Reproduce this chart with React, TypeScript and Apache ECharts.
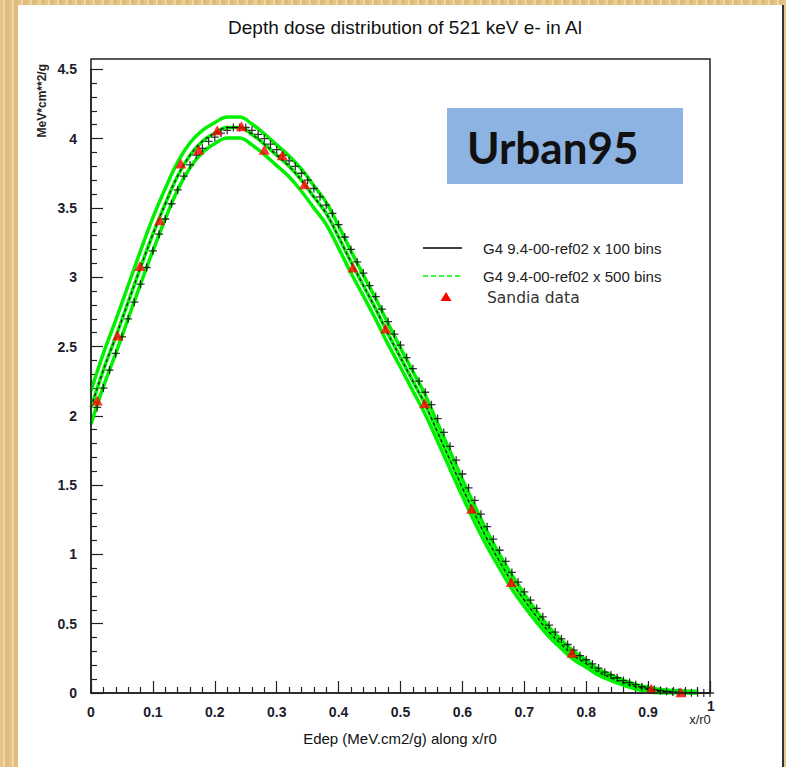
import React, { useEffect, useRef } from 'react';
import * as echarts from 'echarts';

// ---- data ----
const bandX = [0, 0.02, 0.04, 0.06, 0.08, 0.1, 0.12, 0.14, 0.16, 0.18, 0.2, 0.22, 0.24, 0.26, 0.28, 0.3, 0.32, 0.34, 0.36, 0.38, 0.4, 0.42, 0.44, 0.46, 0.48, 0.5, 0.52, 0.54, 0.56, 0.58, 0.6, 0.62, 0.64, 0.66, 0.68, 0.7, 0.72, 0.74, 0.76, 0.78, 0.8, 0.82, 0.84, 0.86, 0.88, 0.9, 0.92, 0.94, 0.96, 0.98];
const bandCenter = [2.06, 2.33, 2.57, 2.82, 3.07, 3.31, 3.53, 3.73, 3.88, 3.98, 4.04, 4.08, 4.08, 4.03, 3.96, 3.88, 3.8, 3.7, 3.58, 3.46, 3.29, 3.11, 2.94, 2.77, 2.59, 2.42, 2.25, 2.08, 1.88, 1.68, 1.48, 1.29, 1.11, 0.95, 0.8, 0.67, 0.55, 0.44, 0.35, 0.27, 0.21, 0.15, 0.11, 0.075, 0.045, 0.025, 0.012, 0.005, 0.002, 0.0005];
const bandHalf = [0.12, 0.12, 0.12, 0.12, 0.12, 0.12, 0.11, 0.1, 0.09, 0.08, 0.075, 0.075, 0.075, 0.075, 0.075, 0.075, 0.075, 0.08, 0.08, 0.08, 0.08, 0.08, 0.075, 0.075, 0.075, 0.07, 0.07, 0.07, 0.065, 0.065, 0.06, 0.06, 0.055, 0.05, 0.05, 0.045, 0.04, 0.035, 0.03, 0.03, 0.025, 0.022, 0.02, 0.018, 0.016, 0.015, 0.014, 0.013, 0.012, 0.012];

// 100-bin histogram (bin width 0.01), plotted at the upper bin edges
const blackY = [
  2.06, 2.2, 2.33, 2.45, 2.57, 2.7, 2.82, 2.95, 3.07, 3.19,
  3.31, 3.42, 3.53, 3.63, 3.73, 3.81, 3.88, 3.93, 3.98, 4.01,
  4.04, 4.06, 4.08, 4.08, 4.08, 4.06, 4.03, 4.0, 3.96, 3.92,
  3.88, 3.84, 3.8, 3.75, 3.7, 3.64, 3.58, 3.52, 3.46, 3.38,
  3.29, 3.2, 3.11, 3.03, 2.94, 2.86, 2.77, 2.68, 2.59, 2.51,
  2.42, 2.34, 2.25, 2.17, 2.08, 1.98, 1.88, 1.78, 1.68, 1.58,
  1.48, 1.39, 1.29, 1.2, 1.11, 1.03, 0.95, 0.87, 0.8, 0.73,
  0.67, 0.61, 0.55, 0.49, 0.44, 0.39, 0.35, 0.31, 0.27, 0.24,
  0.21, 0.18, 0.15, 0.13, 0.11, 0.09, 0.075, 0.06, 0.045, 0.035,
  0.025, 0.018, 0.012, 0.008, 0.005, 0.003, 0.002, 0.001, 0.0005, 0
];
const binWidth = 0.01;

const sandiaX = [0.01, 0.043, 0.079, 0.111, 0.145, 0.174, 0.204, 0.243, 0.28, 0.309, 0.345, 0.423, 0.476, 0.539, 0.615, 0.679, 0.777, 0.905, 0.953];
const sandiaY = [2.11, 2.58, 3.08, 3.41, 3.82, 3.92, 4.06, 4.09, 3.92, 3.88, 3.67, 3.07, 2.63, 2.09, 1.33, 0.8, 0.29, 0.03, 0.005];

const titleText = 'Depth dose distribution of 521 keV e- in Al';
const yName = 'MeV*cm**2/g';
const xName = 'Edep (MeV.cm2/g) along x/r0';
const legendNames = ['G4 9.4-00-ref02 x 100 bins', 'G4 9.4-00-ref02 x 500 bins', 'Sandia data'];
const boxLabel = 'Urban95';

const W = 786;
const H = 767;

export default function App() {
  const ref = useRef<HTMLDivElement>(null);

  useEffect(() => {
    if (!ref.current) return;
    const chart = echarts.init(ref.current, null, { renderer: 'svg' });
    const gl = 91, gr = 710, gb = 693;
    const pxPerUnit = 138.6;
    const gt = gb - 4.5 * pxPerUnit;
    const frameTop = 59;
    const green = '#00f000';
    const font = 'Liberation Sans, Arial, sans-serif';

    const centerData = bandX.map((x, i) => [x, bandCenter[i]]);
    const upperData = bandX.map((x, i) => [x, bandCenter[i] + bandHalf[i]]);
    const lowerData = bandX.map((x, i) => [x, Math.max(0, bandCenter[i] - bandHalf[i])]);
    const blackData = blackY.map((y, i) => [binWidth * (i + 1), y]);
    const sandiaData = sandiaX.map((x, i) => [x, sandiaY[i]]);

    const greenLine = (data: number[][], width: number) => ({
      type: 'line',
      data,
      symbol: 'none',
      smooth: 0.4,
      lineStyle: { color: green, width },
      z: 2,
      silent: true,
    });

    const labelStyle = { fontFamily: font, fontSize: 14, fontWeight: 'bold', color: '#1c1c2c' };

    chart.setOption({
      animation: false,
      grid: { left: gl, right: W - gr, top: gt, bottom: H - gb, containLabel: false, outerBoundsMode: 'none' },
      xAxis: {
        type: 'value',
        min: 0,
        max: 1,
        interval: 0.1,
        axisLine: { show: true, lineStyle: { color: '#222', width: 1.5 } },
        axisTick: { show: true, inside: true, length: 12, lineStyle: { color: '#222', width: 1.2 } },
        minorTick: { show: true, splitNumber: 5, length: 6, lineStyle: { color: '#222', width: 1.2 } },
        splitLine: { show: false },
        axisLabel: {
          ...labelStyle,
          margin: 12,
          formatter: (v: number) => (v >= 0.999 ? '' : String(Math.round(v * 10) / 10)),
        },
      },
      yAxis: {
        type: 'value',
        min: 0,
        max: 4.5,
        interval: 0.5,
        axisLine: { show: true, lineStyle: { color: '#222', width: 1.5 } },
        axisTick: { show: true, inside: true, length: 12, lineStyle: { color: '#222', width: 1.2 } },
        minorTick: { show: true, splitNumber: 5, length: 6, lineStyle: { color: '#222', width: 1.2 } },
        splitLine: { show: false },
        axisLabel: {
          ...labelStyle,
          margin: 14,
          formatter: (v: number) => String(Math.round(v * 10) / 10),
        },
      },
      series: [
        greenLine(upperData, 3.5),
        greenLine(lowerData, 3.5),
        greenLine(centerData, 3.5),
        {
          type: 'line',
          data: centerData,
          symbol: 'none',
          smooth: 0.4,
          lineStyle: { color: '#000', width: 1.1, type: [3, 3] },
          z: 3,
          silent: true,
        },
        {
          name: legendNames[0],
          type: 'scatter',
          data: blackData,
          symbol: 'path://M4.2,0H5.8V4.2H10V5.8H5.8V10H4.2V5.8H0V4.2H4.2Z',
          symbolSize: 8,
          itemStyle: { color: '#000' },
          z: 4,
          silent: true,
        },
        {
          name: legendNames[2],
          type: 'scatter',
          data: sandiaData,
          symbol: 'triangle',
          symbolSize: [11, 10],
          itemStyle: { color: '#ff0000' },
          z: 5,
          silent: true,
        },
      ],
      graphic: [
        {
          type: 'rect',
          shape: { x: gl, y: frameTop, width: gr - gl, height: gb - frameTop },
          style: { fill: 'none', stroke: '#222', lineWidth: 1.5 },
          z: 100,
          silent: true,
        },
        {
          type: 'text', x: 405, y: 27,
          style: { text: titleText, fontFamily: font, fontSize: 19, fill: '#111', textAlign: 'center', verticalAlign: 'middle' },
        },
        {
          type: 'text', x: 42, y: 64, rotation: Math.PI / 2,
          style: { text: yName, fontFamily: font, fontSize: 12, fontWeight: 'bold', fill: '#222', textAlign: 'right', verticalAlign: 'middle' },
        },
        {
          type: 'text', x: 400, y: 738,
          style: { text: xName, fontFamily: font, fontSize: 15, fill: '#111', textAlign: 'center', verticalAlign: 'middle' },
        },
        {
          type: 'text', x: 711, y: 706,
          style: { text: '1', fontFamily: font, fontSize: 14, fontWeight: 'bold', fill: '#1c1c2c', textAlign: 'center', verticalAlign: 'middle' },
        },
        {
          type: 'text', x: 700, y: 719,
          style: { text: 'x/r0', fontFamily: font, fontSize: 13, fill: '#1c1c2c', textAlign: 'center', verticalAlign: 'middle' },
        },
        // legend
        {
          type: 'line', shape: { x1: 423, y1: 248, x2: 462, y2: 248 },
          style: { stroke: '#000', lineWidth: 1.5 },
        },
        {
          type: 'text', x: 483, y: 248,
          style: { text: legendNames[0], fontFamily: font, fontSize: 15, fill: '#222', verticalAlign: 'middle' },
        },
        {
          type: 'line', shape: { x1: 423, y1: 276, x2: 462, y2: 276 },
          style: { stroke: green, lineWidth: 1.5, lineDash: [5, 3] },
        },
        {
          type: 'text', x: 483, y: 276,
          style: { text: legendNames[1], fontFamily: font, fontSize: 15, fill: '#222', verticalAlign: 'middle' },
        },
        {
          type: 'polygon', shape: { points: [[446, 292], [451.5, 301], [440.5, 301]] },
          style: { fill: '#ff0000' },
        },
        {
          type: 'text', x: 487, y: 298,
          style: { text: legendNames[2], fontFamily: 'DejaVu Sans, sans-serif', fontSize: 15.5, fill: '#333', verticalAlign: 'middle' },
        },
        // Urban95 box
        {
          type: 'rect', shape: { x: 447, y: 108, width: 236, height: 76 },
          style: { fill: '#8db3e2' },
        },
        {
          type: 'text', x: 467, y: 147,
          style: { text: boxLabel, fontFamily: 'Lato, sans-serif', fontSize: 44, fontWeight: 'bold', fill: '#111', verticalAlign: 'middle' },
        },
      ],
    });

    return () => chart.dispose();
  }, []);

  return (
    <div
      style={{
        position: 'fixed',
        left: 0,
        top: 0,
        width: W,
        height: H,
        background: 'repeating-linear-gradient(90deg, #e6c487 0px, #e6c487 3px, #efd6a4 3px, #efd6a4 5px, #e0bc7c 5px, #e0bc7c 9px)',
        overflow: 'hidden',
      }}
    >
      <div
        style={{
          position: 'absolute',
          left: 18,
          top: 5,
          width: 764,
          height: H - 5,
          background: '#ffffff',
          borderRight: '2px solid #333',
        }}
      />
      <div ref={ref} style={{ position: 'absolute', left: 0, top: 0, width: W, height: H }} />
    </div>
  );
}
